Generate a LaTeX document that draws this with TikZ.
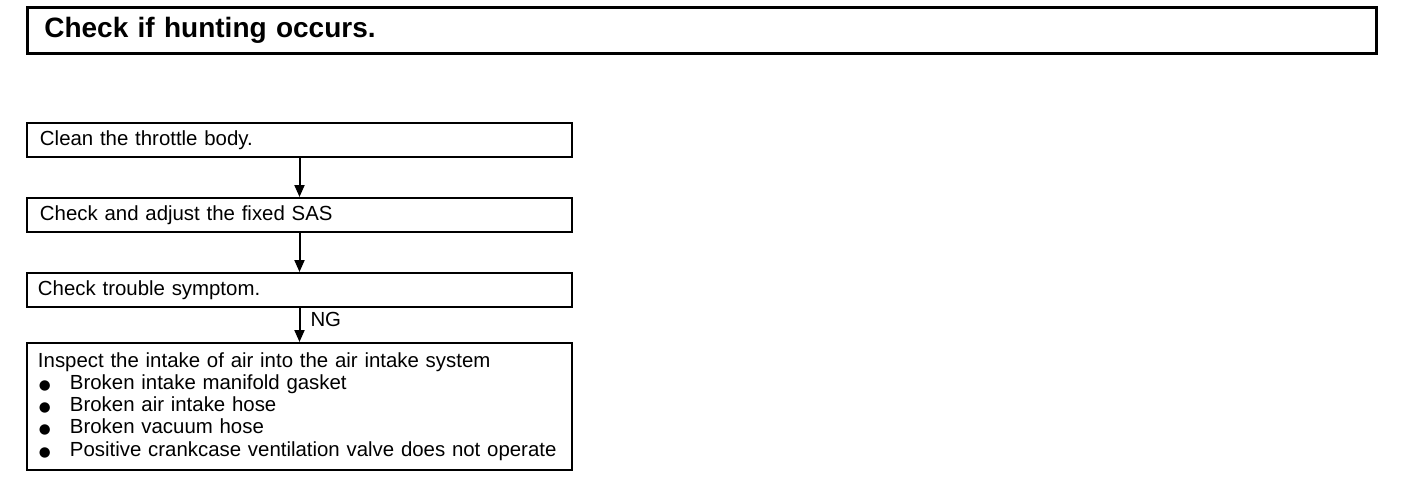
\documentclass[tikz,border=0pt]{standalone}
\usepackage{fontspec}
\setmainfont{Liberation Sans}
\newfontfamily\symfont{DejaVu Sans}
\usetikzlibrary{arrows.meta,positioning}
\newcommand{\blt}{\makebox[16pt][l]{\hspace{0.5pt}{\symfont\fontsize{6.8}{6.8}\selectfont ●}}}

\begin{document}
\begin{tikzpicture}[x=0.5pt,y=-0.5pt,>={Triangle[length=6pt,width=5pt]},
    font=\fontsize{10.2}{11.1}\selectfont,
    stepbox/.style={draw,line width=1pt,anchor=north west,minimum width=272.5pt,
      text width=261.5pt,inner xsep=5.5pt,minimum height=17pt,align=left},
    titlebox/.style={draw,line width=1.3pt,anchor=north west,minimum width=674.5pt,
      text width=657.5pt,inner xsep=8.5pt,minimum height=23pt,align=left,
      font=\fontsize{14}{16}\selectfont\bfseries},
    node distance=19.5pt]
  \useasboundingbox (0,0) rectangle (1408,488);
  \node[titlebox] (hunt) at (26,6) {Check if hunting occurs.};
  \node[stepbox] (clean) at (26,122) {\hspace{1pt}Clean the throttle body.};
  \node[stepbox,below=of clean] (sas) {\hspace{1pt}Check and adjust the fixed SAS};
  \node[stepbox,below=of sas] (symptom) {Check trouble symptom.};
  \node[stepbox,below=17pt of symptom,minimum height=63.5pt] (intake)
    {Inspect the intake of air into the air intake system\\
     \blt Broken intake manifold gasket\\
     \blt Broken air intake hose\\
     \blt Broken vacuum hose\\
     \mbox{\blt Positive crankcase ventilation valve does not operate}};
  \draw[line width=1pt,->] (clean) -- (sas);
  \draw[line width=1pt,->] (sas) -- (symptom);
  \draw[line width=1pt,->] (symptom) -- node[right,pos=0.35,inner sep=5pt]{NG} (intake);
\end{tikzpicture}
\end{document}
